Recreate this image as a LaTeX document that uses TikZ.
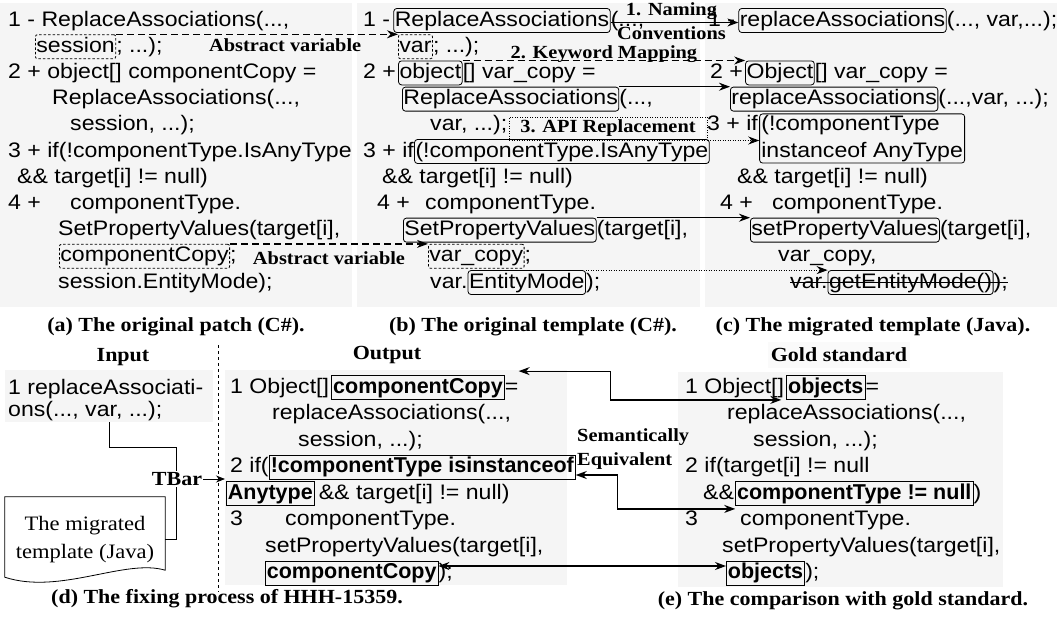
\documentclass[tikz,border=0pt]{standalone}
\usepackage{fontspec}
\setmainfont[FakeStretch=1.1]{Liberation Serif}
\newfontfamily\codefam[FakeStretch=1.1]{Liberation Sans}
\newfontfamily\codeplain{Liberation Sans}
\usetikzlibrary{arrows.meta,positioning,fit,calc}

\begin{document}
\begin{tikzpicture}[x=1pt,y=-1pt,
  code/.style={font=\codefam\fontsize{21}{26}\selectfont,inner sep=0pt,anchor=base west},
  rbox/.style={code,draw,line width=0.8pt,rounded corners=3pt,inner xsep=1pt,inner ysep=2pt,text height=15.5pt,text depth=4.5pt},
  dbox/.style={rbox,dash pattern=on 2.5pt off 2pt,rounded corners=2pt},
  bbox/.style={code,font=\codeplain\fontsize{21.5}{26}\selectfont\bfseries,draw,line width=0.8pt,inner xsep=1.5pt,inner ysep=2pt,text height=15.5pt,text depth=4.5pt},
  fbox/.style={draw,line width=0.8pt,rounded corners=3pt,inner sep=1.5pt},
  panel/.style={fill=black!4,anchor=north west,inner sep=0pt},
  lab/.style={font=\bfseries\fontsize{18.5}{24}\selectfont,inner sep=1pt},
  ttl/.style={font=\bfseries\fontsize{20}{24}\selectfont},
  captxt/.style={font=\bfseries\fontsize{20}{24}\selectfont},
  solarr/.style={-{Stealth[length=11pt,width=8pt]},line width=1.2pt},
  dasharr/.style={solarr,dash pattern=on 7pt off 4pt},
  dotarr/.style={solarr,line width=1pt,dash pattern=on 1pt off 1.5pt},
  dbl/.style={{Stealth[length=11pt,width=8pt]}-{Stealth[length=11pt,width=8pt]},line width=1.2pt}]
\useasboundingbox (0,0) rectangle (1064,619);
\node[panel,minimum width=352pt,minimum height=304pt] (pa) at (0,3) {};
\node[panel,minimum width=343pt,minimum height=304pt] (pb) at (357,3) {};
\node[panel,minimum width=352pt,minimum height=304pt] (pc) at (705,3) {};
\node[panel,minimum width=208pt,minimum height=52pt] (pin) at (5,370) {};
\node[panel,minimum width=342pt,minimum height=215pt] (pout) at (225,370) {};
\node[panel,minimum width=325pt,minimum height=215pt] (pgold) at (678,372) {};
\node[panel,fill=black!2,minimum width=142pt,minimum height=26pt] (pgt) at (768,342) {};
% (a) original patch
\node[code] (a1) at (8,26) {1 - ReplaceAssociations(...,};
\node[dbox] (asess) at (35,52.2) {session};
\node[code,base right=0pt of asess] (a2) {; ...);};
\node[code] (a3) at (8,78.4) {2 + object[] componentCopy =};
\node[code] (a4) at (52,104.6) {ReplaceAssociations(...,};
\node[code] (a5) at (70,130.8) {session, ...);};
\node[code] (a6) at (8,157) {3 + if(!componentType.IsAnyType};
\node[code] (a7) at (17,183.2) {\&\& target[i] != null)};
\node[code] (a8) at (8,209.4) {4 +};
\node[code] (a8b) at (70,209.4) {componentType.};
\node[code] (a9) at (58,235.6) {SetPropertyValues(target[i],};
\node[dbox] (acopy) at (59,261.8) {componentCopy};
\node[code,base right=0pt of acopy] (a10) {;};
\node[code] (a11) at (58,288) {session.EntityMode);};
% (b) original template
\node[code] (b1) at (363,26) {1 -};
\node[rbox,base right=3pt of b1] (brep1) {ReplaceAssociations};
\node[code,base right=0pt of brep1] (b1r) {(...,};
\node[dbox] (bvar) at (398,52.2) {var};
\node[code,base right=0pt of bvar] (b2) {; ...);};
\node[code] (b3) at (363,78.4) {2 +};
\node[rbox,base right=2pt of b3] (bobj) {object};
\node[code,base right=0pt of bobj] (b3r) {[] var\_copy =};
\node[rbox] (brep2) at (402,104.6) {ReplaceAssociations};
\node[code,base right=0pt of brep2] (b4r) {(...,};
\node[code] (b5) at (430,130.8) {var, ...);};
\node[code] (b6) at (363,157) {3 + if};
\node[rbox,base right=0pt of b6] (bany) {(!componentType.IsAnyType};
\node[code] (b7) at (382,183.2) {\&\& target[i] != null)};
\node[code] (b8) at (377,209.4) {4 +};
\node[code] (b8b) at (425,209.4) {componentType.};
\node[rbox] (bspv) at (403,235.6) {SetPropertyValues};
\node[code,base right=0pt of bspv] (b9r) {(target[i],};
\node[dbox] (bcopy) at (428,261.8) {var\_copy};
\node[code,base right=0pt of bcopy] (b10r) {;};
\node[code] (b11) at (430,288) {var.};
\node[rbox,base right=0pt of b11] (bem) {EntityMode};
\node[code,base right=0pt of bem] (b11r) {);};
% (c) migrated template
\node[code] (c1) at (708,26) {1 -};
\node[rbox,base right=3pt of c1] (crep1) {replaceAssociations};
\node[code,base right=0pt of crep1] (c1r) {(..., var,...);};
\node[code] (c3) at (710,78.4) {2 +};
\node[rbox,base right=2pt of c3] (cobj) {Object};
\node[code,base right=0pt of cobj] (c3r) {[] var\_copy =};
\node[rbox] (crep2) at (730,104.6) {replaceAssociations};
\node[code,base right=0pt of crep2] (c4r) {(...,var, ...);};
\node[code] (c5) at (707,130.8) {3 + if};
\node[code,base right=3pt of c5] (cins1) {(!componentType};
\node[code] (cins2) at ([yshift=-26.2pt]cins1.base west) {instanceof AnyType};
\node[fbox,fit=(cins1)(cins2)] (cany) {};
\node[code] (c7) at (737,183.2) {\&\& target[i] != null)};
\node[code] (c8) at (720,209.4) {4 +};
\node[code] (c8b) at (772,209.4) {componentType.};
\node[rbox] (cspv) at (750,235.6) {setPropertyValues};
\node[code,base right=0pt of cspv] (c9r) {(target[i],};
\node[code] (c10) at (778,261.8) {var\_copy,};
\node[code] (c11) at (790,288) {var.};
\node[rbox,base right=0pt of c11] (cgem) {getEntityMode()};
\node[code,base right=0pt of cgem] (c11r) {);};
\draw[line width=0.8pt] ([yshift=6pt]c11.base west) -- ([yshift=6pt]c11r.base east);
% top connectors
\draw[dasharr] (asess.north east) -- node[lab,below,pos=0.6,yshift=-3pt]{Abstract variable} (bvar.north west);
\draw[dasharr] (acopy.north east) -- node[lab,below,yshift=-6pt]{Abstract variable} (bcopy.north west);
\draw[solarr] ([yshift=-2pt]brep1.east) -- node[lab,align=center,xshift=-3pt,yshift=1pt]{1. Naming\\Conventions} ([yshift=-2pt]crep1.west);
\draw[dasharr] (bobj.north east) -- node[lab,above,yshift=-4pt]{2. Keyword Mapping} (cobj.north west);
\draw[solarr] (brep2.north east) -- (crep2.north west);
\node[lab,draw,line width=1pt,dash pattern=on 1pt off 1.5pt,minimum width=198pt,minimum height=23pt] (api) at (608,128.5) {3. API Replacement};
\draw[dotarr] (api.south east) -- (api.south east -| cany.west);
\draw[solarr] (bspv.north east) -- (cspv.north west);
\draw[dotarr] (bem.north east) -- (cgem.north west);
\node[captxt] (capa) at (176,327) {(a) The original patch (C\#).};
\node[captxt] (capb) at (533,327) {(b) The original template (C\#).};
\node[captxt] (capc) at (873,327) {(c) The migrated template (Java).};
% (d) fixing process
\node[ttl] (tin) at (123,357) {Input};
\node[ttl] (tout) at (387,355) {Output};
\node[ttl] (tgold) at (839,355) {Gold standard};
\draw[dashed,line width=0.8pt] (218,345) -- (218,592);
\node[code] (i1) at (8,394) {1 replaceAssociati-};
\node[code] (i2) at (8,416) {ons(..., var, ...);};
\node[font=\fontsize{20.5}{28}\selectfont,align=center,minimum width=160pt,minimum height=85pt] (doc) at (85,539.5) {The migrated\\template (Java)};
\draw[line width=0.8pt] (doc.north west) -- (doc.north east) -- ([yshift=12pt]doc.south east)
  .. controls ([xshift=-40pt,yshift=24pt]doc.south east) and ([xshift=55pt,yshift=-13pt]doc.south west) .. ([yshift=5pt]doc.south west) -- cycle;
\draw[line width=0.8pt] (pin.south) |- ++(67,25) |- (doc.east);
\node[ttl,fill=white,inner sep=1pt] (tbar) at (177,479) {TBar};
\draw[-{Stealth[length=9pt,width=7pt]},line width=0.8pt] (tbar.east) -- (tbar.east -| pout.west);
\node[code] (o1) at (230,393) {1 Object[]};
\node[bbox,base right=2pt of o1] (ocopy1) {componentCopy};
\node[code,base right=0pt of ocopy1] (o1r) {=};
\node[code] (o2) at (272,419.5) {replaceAssociations(...,};
\node[code] (o3) at (298,446) {session, ...);};
\node[code] (o4) at (230,472.5) {2 if(};
\node[bbox,base right=0pt of o4] (oinst) {!componentType isinstanceof};
\node[bbox] (oany) at (226,499) {Anytype};
\node[code,base right=4pt of oany] (o5r) {\&\& target[i] != null)};
\node[code] (o6) at (230,525.5) {3};
\node[code] (o6b) at (285,525.5) {componentType.};
\node[code] (o7) at (265,552) {setPropertyValues(target[i],};
\node[bbox] (ocopy2) at (265,578.5) {componentCopy};
\node[code,base right=0pt of ocopy2] (o8r) {);};
% (e) gold standard
\node[code] (g1) at (685,393) {1 Object[]};
\node[bbox,base right=2pt of g1] (gobj1) {objects};
\node[code,base right=0pt of gobj1] (g1r) {=};
\node[code] (g2) at (727,419.5) {replaceAssociations(...,};
\node[code] (g3) at (753,446) {session, ...);};
\node[code] (g4) at (685,472.5) {2 if(target[i] != null};
\node[code] (g5) at (703,499) {\&\&};
\node[bbox,base right=1pt of g5] (gnull) {componentType != null};
\node[code,base right=0pt of gnull] (g5r) {)};
\node[code] (g6) at (685,525.5) {3};
\node[code] (g6b) at (740,525.5) {componentType.};
\node[code] (g7) at (722,552) {setPropertyValues(target[i],};
\node[bbox] (gobj2) at (726,578.5) {objects};
\node[code,base right=0pt of gobj2] (g8r) {);};
\draw[dbl] ([xshift=14pt,yshift=4pt]ocopy1.north east) -- ++(92,0) |- ([xshift=-5pt]gobj1.south west);
\draw[dbl] ([yshift=-8pt]oinst.east) -- ++(42,0) |- ([yshift=-3pt]gnull.south west);
\draw[dbl] ([yshift=7pt]ocopy2.east) -- ([yshift=7pt]gobj2.west);
\node[lab,align=left,anchor=west] (sem) at (576,449) {Semantically\\Equivalent};
\node[captxt] (capd) at (227,599) {(d) The fixing process of HHH-15359.};
\node[captxt] (cape) at (843,601) {(e) The comparison with gold standard.};
\end{tikzpicture}
\end{document}
